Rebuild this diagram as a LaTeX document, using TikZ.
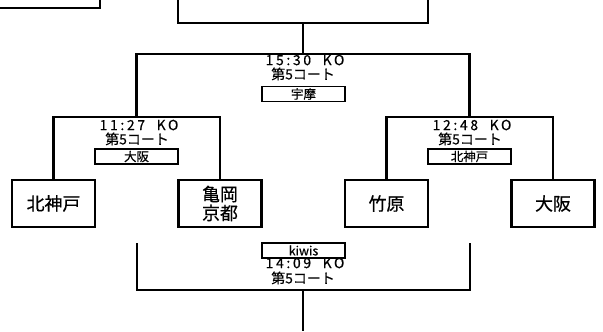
\documentclass[tikz,border=0pt]{standalone}
\usepackage{fontspec}
\setmainfont{Noto Sans CJK JP}[FakeBold=0.5]
\newfontfamily\kofont[LetterSpace=19,FakeBold=0.5]{Noto Sans CJK JP}

\begin{document}
\begin{tikzpicture}[x=1bp,y=-1bp,
    team/.style={draw, line width=2.2bp, minimum width=83bp, minimum height=47bp, inner sep=0pt, align=center, font=\fontsize{18}{19}\selectfont},
    winner/.style={draw, line width=1.6bp, minimum width=83bp, minimum height=15bp, inner sep=0pt, font=\fontsize{12.5}{12}\selectfont},
    kickoff/.style={inner sep=0pt, font=\kofont\fontsize{14}{14}\selectfont},
    court/.style={inner sep=0pt, font=\fontsize{14}{14}\selectfont},
    bracket/.style={line width=2.2bp}]
            \useasboundingbox (0,0) rectangle (603,331);
            \clip (0,0) rectangle (603,331);

            % Cajas de arriba
            \node[draw, line width=2.2bp, minimum width=110bp, minimum height=27.5bp, inner sep=0pt] (champ) at (45,-6) {};
            \node[draw, line width=2.2bp, minimum width=250bp, minimum height=42.7bp, inner sep=0pt] (final) at (303,1.35) {};

            % Equipos
            \node[team] (kitakobe) at (53.5,203.5) {北神戸};
            \node[team] (kameoka) at (220,203.5) {亀岡\\京都};
            \node[team] (takehara) at (386.5,203.5) {竹原};
            \node[team] (osaka) at (553,203.5) {大阪};

            % Puntos de las llaves
            \coordinate (sf1) at (136.5,117);
            \coordinate (sf2) at (469.5,117);
            \coordinate (fin) at (303,54.3);
            \coordinate (b1) at (137,243);
            \coordinate (b2) at (470,243);
            \coordinate (third) at (303,290);
            \coordinate (bot) at (303,331);

            % Llaves
            \draw[bracket] (kitakobe.north) |- (sf1) -| (kameoka.north);
            \draw[bracket] (takehara.north) |- (sf2) -| (osaka.north);
            \draw[bracket] (sf1) |- (fin) -| (sf2);
            \draw[bracket] (fin) -- (final.south);
            \draw[bracket] (b1) |- (third) -| (b2);
            \draw[bracket] (third) -- (bot);

            % Final
            \node[kickoff] (ko1) at (305,60) {15:30~~KO};
            \node[court] (ct1) at (303,74) {第5コート};
            \node[winner] (w1) at (303.5,94) {宇摩};

            % Semifinal izquierda
            \node[kickoff] (ko2) at (139,125) {11:27~~KO};
            \node[court] (ct2) at (137,139) {第5コート};
            \node[winner] (w2) at (136.5,156.5) {大阪};

            % Semifinal derecha
            \node[kickoff] (ko3) at (472,125) {12:48~~KO};
            \node[court] (ct3) at (470,139) {第5コート};
            \node[winner] (w3) at (469.5,156.5) {北神戸};

            % Tercer puesto
            \node[winner] (w4) at (303.5,250.5) {kiwis};
            \node[kickoff] (ko4) at (305,263) {14:09~~KO};
            \node[court] (ct4) at (303,278) {第5コート};
        \end{tikzpicture}
\end{document}
